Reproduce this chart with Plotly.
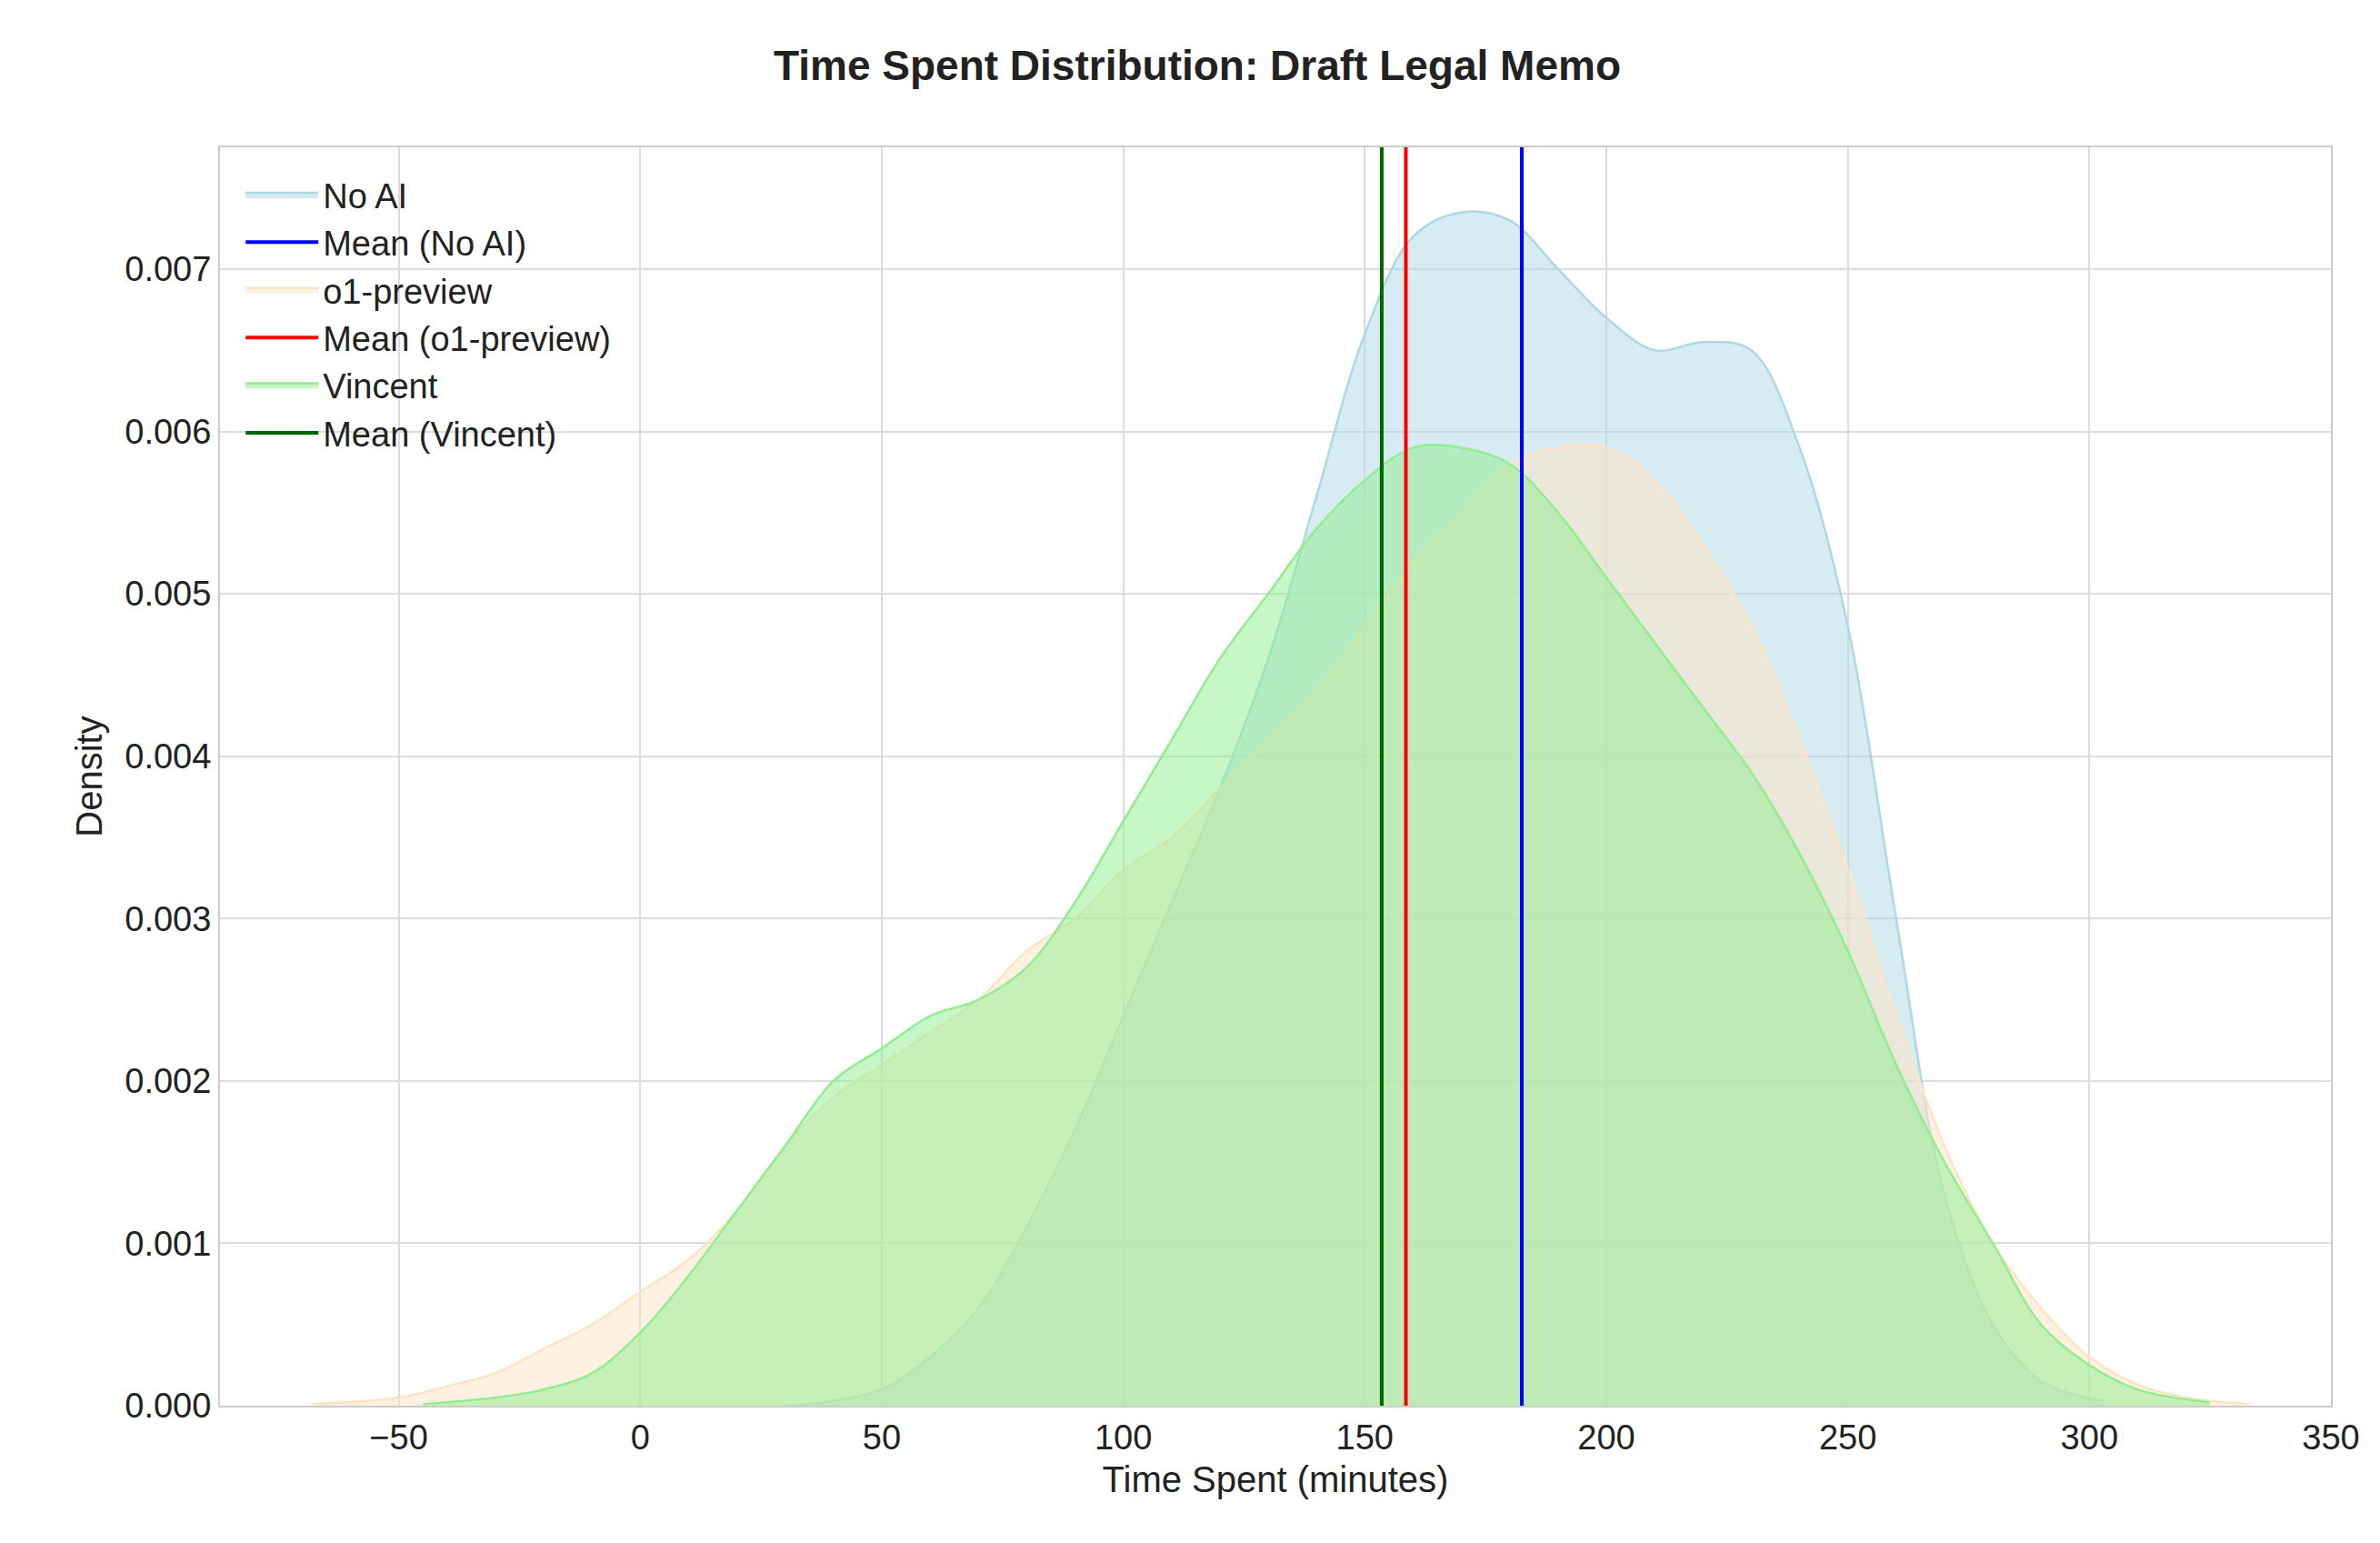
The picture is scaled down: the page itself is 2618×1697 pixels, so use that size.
import plotly.graph_objects as go

noai_x = [30,40,50,60,70,80,90,100,110,120,130,140,150,160,170,180,190,200,210,220,230,240,250,260,270,280,290,303]
noai_y = [0.0,0.00003,0.0001,0.0003,0.0006,0.0011,0.0017,0.0024,0.0031,0.0038,0.0046,0.0056,0.0066,0.0072,0.00735,0.0073,0.0070,0.0067,0.0065,0.00655,0.0065,0.0059,0.0048,0.0030,0.0013,0.0005,0.00015,0.00003]
o1_x = [-68,-50,-40,-30,-20,-10,0,10,20,30,40,50,60,70,80,90,100,110,120,130,140,150,160,170,180,190,200,210,220,230,240,250,260,270,280,290,300,310,320,333]
o1_y = [0.00001,0.00005,0.00012,0.0002,0.00035,0.0005,0.0007,0.0009,0.0012,0.0016,0.0019,0.0021,0.0023,0.0025,0.0028,0.0030,0.0033,0.0035,0.0038,0.0041,0.0044,0.0048,0.0052,0.0055,0.0058,0.0059,0.0059,0.0057,0.0053,0.0048,0.0041,0.0033,0.0024,0.0016,0.0010,0.0006,0.0003,0.00013,0.00005,0.00001]
vin_x = [-45,-30,-20,-10,0,10,20,30,40,50,60,70,80,90,100,110,120,130,140,150,160,170,180,190,200,210,220,230,240,250,260,270,280,290,300,310,325]
vin_y = [0.00001,0.00005,0.0001,0.0002,0.00045,0.0008,0.0012,0.0016,0.0020,0.0022,0.0024,0.0025,0.0027,0.0031,0.0036,0.0041,0.0046,0.0050,0.0054,0.0057,0.0059,0.0059,0.0058,0.0055,0.0051,0.0047,0.0043,0.0039,0.0034,0.0028,0.0021,0.0015,0.0010,0.0005,0.00025,0.0001,0.00002]
means = {"No AI": 182.5, "o1-preview": 158.5, "Vincent": 153.5}

series = [
    ("No AI", noai_x, noai_y, "rgb(173,216,230)", "rgba(173,216,230,0.5)", "blue"),
    ("o1-preview", o1_x, o1_y, "rgb(255,228,196)", "rgba(255,228,196,0.5)", "red"),
    ("Vincent", vin_x, vin_y, "rgb(144,238,144)", "rgba(144,238,144,0.5)", "darkgreen"),
]

fig = go.Figure()
for i, (name, xs, ys, lc, fc, mc) in enumerate(series):
    fig.add_trace(go.Scatter(x=xs, y=ys, name=name, mode="lines", fill="tozeroy", legendrank=10 * i,
                             line=dict(color=lc, width=2.5, shape="spline"), fillcolor=fc))
for i, (name, xs, ys, lc, fc, mc) in enumerate(series):
    m = means[name]
    fig.add_trace(go.Scatter(x=[m, m], y=[0, 1], name=f"Mean ({name})", mode="lines", legendrank=10 * i + 5,
                             line=dict(color=mc, width=4)))

fig.update_layout(
    width=2618, height=1697, paper_bgcolor="white", plot_bgcolor="white",
    font=dict(family="Arial, Liberation Sans", size=38, color="#222"),
    title=dict(text="<b>Time Spent Distribution: Draft Legal Memo</b>", x=0.5, y=0.972,
               xanchor="center", font=dict(size=46)),
    margin=dict(l=234, r=62, t=154, b=159),
    legend=dict(x=0.01, y=0.985, xanchor="left", yanchor="top", bgcolor="rgba(0,0,0,0)",
                font=dict(size=38), tracegroupgap=0, itemwidth=80),
)
fig.update_xaxes(range=[-87, 350], dtick=50, showgrid=True, gridcolor="#dcdcdc", gridwidth=2,
                 title=dict(text="Time Spent (minutes)", font=dict(size=40), standoff=12), zeroline=False,
                 showline=True, linecolor="#cccccc", linewidth=2, mirror=True, ticks="")
fig.update_yaxes(range=[0, 0.00775], dtick=0.001, tickformat=".3f", showgrid=True, gridcolor="#dcdcdc",
                 gridwidth=2, title=dict(text="Density", font=dict(size=40), standoff=12), zeroline=False,
                 showline=True, linecolor="#cccccc", linewidth=2, mirror=True, ticks="")
fig.write_html("out.html")
